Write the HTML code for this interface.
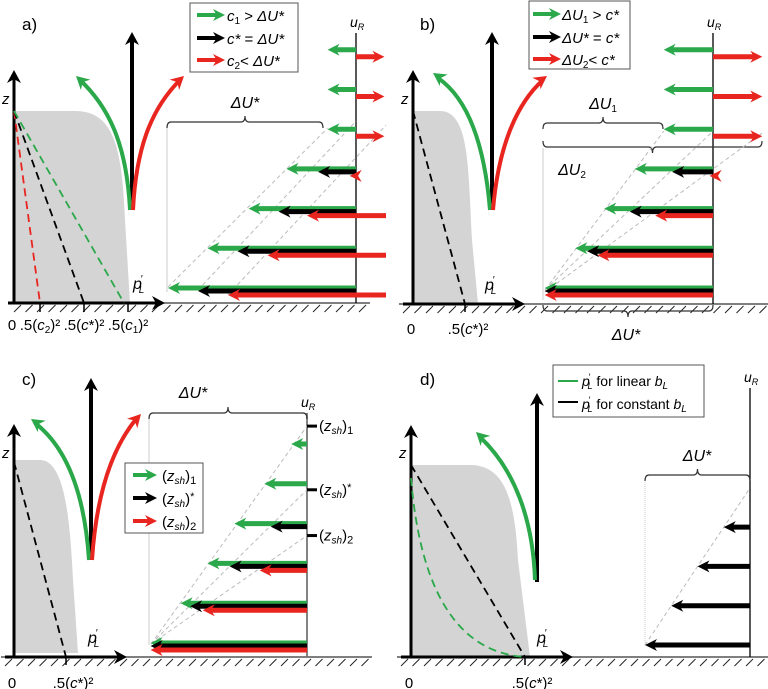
<!DOCTYPE html>
<html><head><meta charset="utf-8">
<style>
html,body{margin:0;padding:0;background:#fff;}
svg{display:block;font-family:"Liberation Sans",sans-serif;}
.it{font-style:italic;}
</style></head>
<body>
<svg id="fig" width="768" height="689" viewBox="0 0 768 689" xmlns="http://www.w3.org/2000/svg">
<g id="layer"></g>
</svg>
<script>
// ---------- data (lengths in units of ΔU*, positive = leftward) ----------
const aRowsZ = [6,5,4,3,2,1,0];
const aGreen = [0.18,0.18,0.18,0.44,0.68,0.94,1.19];
const aBlack = [null,null,null,0.24,0.49,0.75,1.0];
const aRed   = [-0.18,-0.18,-0.18,0.04,0.31,0.56,0.81];

const bRowsZ = [6,5,4,3,2,1,0];
const bGreen = [0.29,0.29,0.29,0.46,0.64,0.81,0.99];
const bBlack = [null,null,null,0.24,0.49,0.74,0.99];
const bRed   = [-0.29,-0.29,-0.29,0.02,0.34,0.68,0.99];

const cRowsZ = [5,4,3,2,1,0];
const cGreen = [0.10,0.27,0.46,0.63,0.80,0.99];
const cBlack = [null,null,0.23,0.49,0.74,0.99];
const cRed   = [null,null,null,0.30,0.66,0.99];
const cShearZ = [5.5,3.9,2.75];
const cShearLabels = ["1","*","2"];

const dRowsZ = [3,2,1,0];
const dBlack = [0.25,0.5,0.75,1.0];

const tickLabelsA = ["0",".5(c₂)²",".5(c*)²",".5(c₁)²"];

// ---------- helpers ----------
const NS="http://www.w3.org/2000/svg";
const layer=document.getElementById('layer');
const GREEN="#2aa84a", RED="#e8251f", BLACK="#000", GRAY="#d4d4d4";
function mk(tag,attrs,parent){const e=document.createElementNS(NS,tag);for(const k in attrs)e.setAttribute(k,attrs[k]);(parent||layer).appendChild(e);return e;}
function grp(name){const g=mk('g',{});


return g;}
function head(g,x,y,ang,color,L,W){
  const c=Math.cos(ang),s=Math.sin(ang);
  const bx=x-c*L,by=y-s*L, nx=-s,ny=c;
  const mx=x-c*L*0.7,my=y-s*L*0.7;
  mk('polygon',{points:`${x},${y} ${bx+nx*W},${by+ny*W} ${mx},${my} ${bx-nx*W},${by-ny*W}`,fill:color},g);
}
function hArrow(g,x1,x2,y,color,w){
  const dir=x2<x1?-1:1;
  mk('line',{x1:x1,y1:y,x2:x2-dir*8,y2:y,stroke:color,'stroke-width':w},g);
  head(g,x2,y,dir<0?Math.PI:0,color,12,6);
}
function vArrow(g,x,y1,y2,w){
  mk('line',{x1:x,y1:y1,x2:x,y2:y2+9,stroke:BLACK,'stroke-width':w},g);
  head(g,x,y2,-Math.PI/2,BLACK,13,7);
}
function curveArrow(g,d,ex,ey,px,py,color){
  mk('path',{d:d,fill:'none',stroke:color,'stroke-width':4},g);
  head(g,ex,ey,Math.atan2(ey-py,ex-px),color,13,7);
}
function hatch(g,x0,x1,y){
  for(let x=x0;x<x1;x+=11.5) mk('line',{x1:x,y1:y+9,x2:x+7,y2:y+2,stroke:'#222','stroke-width':1},g);
}
function txt(g,x,y,html,size,anchor,cls){
  const t=mk('text',{x:x,y:y,'font-size':size||14,'text-anchor':anchor||'start'},g);
  if(cls)t.setAttribute('class',cls);
  t.innerHTML=html;return t;
}
function brace(g,x1,x2,y,up){ // up=true -> tip points up (label above)
  const d=up?1:-1, h=6, m=(x1+x2)/2;
  // ends at y+d*h, main line at y, tip at y-d*h
  mk('path',{d:`M${x1},${y+d*h} Q${x1},${y} ${x1+4},${y} L${m-4},${y} Q${m},${y} ${m},${y-d*h} Q${m},${y} ${m+4},${y} L${x2-4},${y} Q${x2},${y} ${x2},${y+d*h}`,fill:'none',stroke:'#333','stroke-width':1.2},g);
}
function pL(g,x,y){ txt(g,x,y,'<tspan class="it">p</tspan><tspan dx="-1" dy="-7" font-size="10">′</tspan><tspan dx="-4" dy="11" font-size="10" class="it">L</tspan>',16); }

function panel(o){
  const g=grp(o.name);
  mk('path',{d:o.shape,fill:GRAY},g);
  hatch(g,o.hx0,o.hx1,o.gy);
  mk('line',{x1:o.hx0-4,y1:o.gy,x2:o.hx1,y2:o.gy,stroke:'#333','stroke-width':1.2},g);
  const xa=grp(o.name+'-x-axis'); g.appendChild(xa);
  mk('line',{x1:o.ax0,y1:o.gy,x2:o.ax1-8,y2:o.gy,stroke:BLACK,'stroke-width':3},xa);
  head(xa,o.ax1,o.gy,0,BLACK,13,7);
  const za=grp(o.name+'-z-axis'); g.appendChild(za);
  vArrow(za,o.zx,o.gy,o.ztop,3);
  txt(g,o.zx-12,o.zy,'z',15,'start','it');
  pL(g,o.pLx,o.gy-14);
  txt(g,o.lblx,o.lbly,o.label,17);
  const ca=grp(o.name+'-wave-arrows'); g.appendChild(ca);
  vArrow(ca,o.vx,o.vy1,o.vy2,4);
  o.curves.forEach(c=>curveArrow(ca,c[0],c[1],c[2],c[3],c[4],c[5]));
  mk('line',{x1:o.ux,y1:o.uy,x2:o.ux,y2:o.gy,stroke:o.ucol||BLACK,'stroke-width':o.uw||1.3},g);
  txt(g,o.ux-6,o.uy-6,'<tspan class="it">u</tspan><tspan dy="3" font-size="9" class="it">R</tspan>',14);
  return g;
}
function rowsDraw(g,ux,W,yS,rowsZ,series,offs,colors,tail){
  series.forEach((arr,si)=>{
    rowsZ.forEach((z,i)=>{
      const v=arr[i]; if(v===null||v===undefined) return;
      const y=yS(z)+offs[si];
      const ar=grp('velocity-arrow'); g.appendChild(ar);
      const start = (tail && tail[si] && tail[si][i]) ? ux+tail[si][i] : ux;
      hArrow(ar,start,ux-v*W,y,colors[si],5);
    });
  });
}
function dash(g,x1,y1,x2,y2,col,da){mk('line',{x1,y1,x2,y2,stroke:col,'stroke-width':da?1:1.8,'stroke-dasharray':da||'8,5'},g);}
function ct(s){return s.replace('c₂','<tspan class="it">c</tspan><tspan font-size="10" dy="3">2</tspan><tspan dy="-3">)²</tspan>').replace('c₁','<tspan class="it">c</tspan><tspan font-size="10" dy="3">1</tspan><tspan dy="-3">)²</tspan>').replace('c*','<tspan class="it">c</tspan>*');}

// ---------- Panel a ----------
{
const yS=z=>290-z*39.7, ux=356, W=158;
const g=panel({name:'panel-a',shape:'M14,303 L14,111 L75,111 C115,111 122,150 125,220 L130,303 Z',hx0:14,hx1:370,gy:303,ax0:8,ax1:165,zx:14,ztop:70,zy:104,pLx:133,label:'a)',lblx:22,lbly:30,
 vx:132,vy1:210,vy2:32,curves:[['M130,210 C127,150 112,110 80,80',76,76,100,98,GREEN],['M133,210 C136,150 150,110 180,80',184,76,160,98,RED]],ux:ux,uy:33});
dash(g,14,111,40,303,RED); dash(g,14,111,84,303,BLACK); dash(g,14,111,124,303,GREEN);
const tx=[12,40,84,128];
tickLabelsA.forEach((l,i)=>{ if(i>0) mk('line',{x1:tx[i],y1:303,x2:tx[i],y2:312,stroke:BLACK,'stroke-width':1.5},g);
 let h=l; if(l.indexOf('c₂')>=0||l.indexOf('c₁')>=0) h=ct(l.replace(')²','')); else h=ct(l);
 const t=txt(g,tx[i],330,h,15,'middle');
 
  });
mk('line',{x1:167,y1:125,x2:167,y2:292,stroke:'#ccc','stroke-width':1},g);
brace(g,167,323,122,true); txt(g,245,108,'ΔU*',16,'middle','it');
const gx=i=>ux-aGreen[i]*W, bx=i=>ux-aBlack[i]*W, rx=i=>ux-aRed[i]*W;
dash(g,gx(6),yS(0)-3,gx(2),yS(4)-3,'#bbb','4,3');
dash(g,bx(6),yS(0),ux,yS(4)-10,'#bbb','4,3');
dash(g,rx(6),yS(0)+5,386,yS(4)-6,'#bbb','4,3');
rowsDraw(g,ux,W,yS,aRowsZ,[aGreen,aBlack,aRed],[-2,1,5],[GREEN,BLACK,RED],[null,null,[0,0,0,0,30,30,30]]);
const lg=grp('legend-a'); g.appendChild(lg);
mk('rect',{x:190,y:3,width:108,height:69,fill:'#fff',stroke:'#555','stroke-width':1},lg);
hArrow(lg,197,225,15,GREEN,4); hArrow(lg,197,225,38,BLACK,4); hArrow(lg,197,225,60,RED,4);
txt(lg,227,21,'<tspan class="it">c</tspan><tspan font-size="10" dy="3">1</tspan><tspan dy="-3"> &gt; </tspan><tspan class="it">ΔU*</tspan>',15);
txt(lg,227,44,'<tspan class="it">c*</tspan> = <tspan class="it">ΔU*</tspan>',15);
txt(lg,227,66,'<tspan class="it">c</tspan><tspan font-size="10" dy="3">2</tspan><tspan dy="-3">&lt; </tspan><tspan class="it">ΔU*</tspan>',15);
}
// ---------- Panel b ----------
{
const yS=z=>290-z*39.7, ux=713, W=170;
const g=panel({name:'panel-b',shape:'M413,304 L413,111 L440,111 C470,111 468,170 472,240 L478,304 Z',hx0:403,hx1:768,gy:304,ax0:403,ax1:525,zx:413,ztop:70,zy:104,pLx:485,label:'b)',lblx:420,lbly:30,
 vx:492,vy1:210,vy2:32,curves:[['M490,210 C485,150 470,100 438,78',433,73,455,88,GREEN],['M493,210 C498,150 515,105 543,80',547,76,530,88,RED]],ux:ux,uy:33});
dash(g,413,111,465,304,BLACK);
mk('line',{x1:465,y1:304,x2:465,y2:312,stroke:BLACK,'stroke-width':1.5},g);
txt(g,411,334,'0',15,'middle'); txt(g,468,334,'.5(<tspan class="it">c</tspan>*)²',15,'middle');
mk('line',{x1:543,y1:148,x2:543,y2:300,stroke:'#ccc','stroke-width':1},g);
brace(g,543,663,123,true); txt(g,603,109,'<tspan class="it">ΔU</tspan><tspan font-size="10" dy="3">1</tspan>',16,'middle');
brace(g,543,762,147,false); txt(g,572,175,'<tspan class="it">ΔU</tspan><tspan font-size="10" dy="3">2</tspan>',16,'middle');
brace(g,543,713,311,false); txt(g,626,340,'ΔU*',16,'middle','it');
const gx=i=>ux-bGreen[i]*W;
dash(g,545,290,gx(2),yS(4),'#bbb','4,3'); dash(g,545,290,ux,yS(4),'#bbb','4,3'); dash(g,545,292,762,yS(4)+2,'#bbb','4,3');
rowsDraw(g,ux,W,yS,bRowsZ,[bGreen,bBlack,bRed],[-2,1,5],[GREEN,BLACK,RED]);
const lg=grp('legend-b'); g.appendChild(lg);
mk('rect',{x:529,y:1,width:101,height:68,fill:'#fff',stroke:'#555','stroke-width':1},lg);
hArrow(lg,533,561,14,GREEN,4); hArrow(lg,533,561,37,BLACK,4); hArrow(lg,533,561,59,RED,4);
txt(lg,562,20,'<tspan class="it">ΔU</tspan><tspan font-size="10" dy="3">1</tspan><tspan dy="-3"> &gt; </tspan><tspan class="it">c*</tspan>',15);
txt(lg,562,43,'<tspan class="it">ΔU*</tspan> = <tspan class="it">c*</tspan>',15);
txt(lg,562,65,'<tspan class="it">ΔU</tspan><tspan font-size="10" dy="3">2</tspan><tspan dy="-3">&lt; </tspan><tspan class="it">c*</tspan>',15);
}
// ---------- Panel c ----------
{
const yS=z=>645-z*39.8, ux=307, W=158;
const g=panel({name:'panel-c',shape:'M14,653 L14,460 L40,460 C65,460 70,520 73,580 L78,653 Z',hx0:5,hx1:372,gy:657,ax0:5,ax1:127,zx:14,ztop:424,zy:458,pLx:88,label:'c)',lblx:22,lbly:385,
 vx:91,vy1:560,vy2:378,curves:[['M89,560 C85,500 70,450 35,423',31,419,50,432,GREEN],['M92,560 C96,500 110,450 137,418',141,414,128,428,RED]],ux:ux,uy:413,ucol:'#777',uw:1.8});
dash(g,14,462,66,657,BLACK);
mk('line',{x1:66,y1:657,x2:66,y2:665,stroke:BLACK,'stroke-width':1.5},g);
txt(g,12,688,'0',15,'middle'); txt(g,73,688,'.5(<tspan class="it">c</tspan>*)²',15,'middle');
mk('line',{x1:149,y1:415,x2:149,y2:645,stroke:'#ccc','stroke-width':1},g);
brace(g,149,307,413,true); txt(g,193,398,'ΔU*',16,'middle','it');
cShearZ.forEach((z,i)=>{ const y=yS(z);
 dash(g,151,644,ux,y,'#bbb','4,3');
 const tk=grp('shear-height-tick'); g.appendChild(tk);
 mk('line',{x1:ux,y1:y,x2:ux+10,y2:y,stroke:BLACK,'stroke-width':3},tk);
 txt(tk,ux+12,y+5,'(<tspan class="it">z</tspan><tspan font-size="10" dy="3" class="it">sh</tspan><tspan dy="-3">)</tspan>'+(cShearLabels[i]==='*'?'<tspan dy="-4" font-size="11">*</tspan>':'<tspan dy="3" font-size="11">'+cShearLabels[i]+'</tspan>'),15);
});
rowsDraw(g,ux,W,yS,cRowsZ,[cGreen,cBlack,cRed],[-2,1,5],[GREEN,BLACK,RED]);
const lg=grp('legend-c'); g.appendChild(lg);
mk('rect',{x:125,y:463,width:78,height:70,fill:'#fff',stroke:'#555','stroke-width':1},lg);
hArrow(lg,133,157,475,GREEN,4); hArrow(lg,133,157,498,BLACK,4); hArrow(lg,133,157,521,RED,4);
['1','*','2'].forEach((s,i)=>txt(lg,162,481+i*23,'(<tspan class="it">z</tspan><tspan font-size="10" dy="3" class="it">sh</tspan><tspan dy="-3">)</tspan>'+(s==='*'?'<tspan dy="-4" font-size="11">*</tspan>':'<tspan dy="3" font-size="11">'+s+'</tspan>'),15));
}
// ---------- Panel d ----------
{
const yS=z=>645-z*39.3, ux=750, W=105;
const g=panel({name:'panel-d',shape:'M411,657 L411,465 L470,465 C505,465 515,500 518,560 L530,657 Z',hx0:401,hx1:768,gy:657,ax0:401,ax1:573,zx:411,ztop:425,zy:458,pLx:537,label:'d)',lblx:420,lbly:385,
 vx:537,vy1:582,vy2:393,curves:[['M535,580 C533,520 515,470 480,437',476,432,495,450,GREEN]],ux:ux,uy:388});
dash(g,411,465,525,657,BLACK);
mk('path',{d:'M411,478 Q425,650 525,657',fill:'none',stroke:GREEN,'stroke-width':1.8,'stroke-dasharray':'8,5'},g);
mk('line',{x1:525,y1:657,x2:525,y2:665,stroke:BLACK,'stroke-width':1.5},g);
txt(g,409,688,'0',15,'middle'); txt(g,532,688,'.5(<tspan class="it">c</tspan>*)²',15,'middle');
mk('line',{x1:645,y1:478,x2:645,y2:645,stroke:'#ccc','stroke-width':1,'stroke-dasharray':'1,1'},g);
brace(g,645,750,475,true); txt(g,697,461,'ΔU*',16,'middle','it');
dash(g,645,645,ux,488,'#bbb','4,3');
rowsDraw(g,ux,W,yS,dRowsZ,[dBlack],[0],[BLACK]);
const lg=grp('legend-d'); g.appendChild(lg);
mk('rect',{x:553,y:365,width:151,height:52,fill:'#fff',stroke:'#555','stroke-width':1},lg);
mk('line',{x1:558,y1:381,x2:578,y2:381,stroke:GREEN,'stroke-width':2},lg);
mk('line',{x1:558,y1:402,x2:578,y2:402,stroke:BLACK,'stroke-width':2},lg);
txt(lg,582,386,'<tspan class="it">p</tspan><tspan dx="-1" dy="-6" font-size="9">′</tspan><tspan dx="-3" dy="9" font-size="9" class="it">L</tspan><tspan dy="-3"> for linear </tspan><tspan class="it">b</tspan><tspan font-size="10" dy="3" class="it">L</tspan>',14);
txt(lg,582,409,'<tspan class="it">p</tspan><tspan dx="-1" dy="-6" font-size="9">′</tspan><tspan dx="-3" dy="9" font-size="9" class="it">L</tspan><tspan dy="-3"> for constant </tspan><tspan class="it">b</tspan><tspan font-size="10" dy="3" class="it">L</tspan>',14);
}
</script>
</body></html>
